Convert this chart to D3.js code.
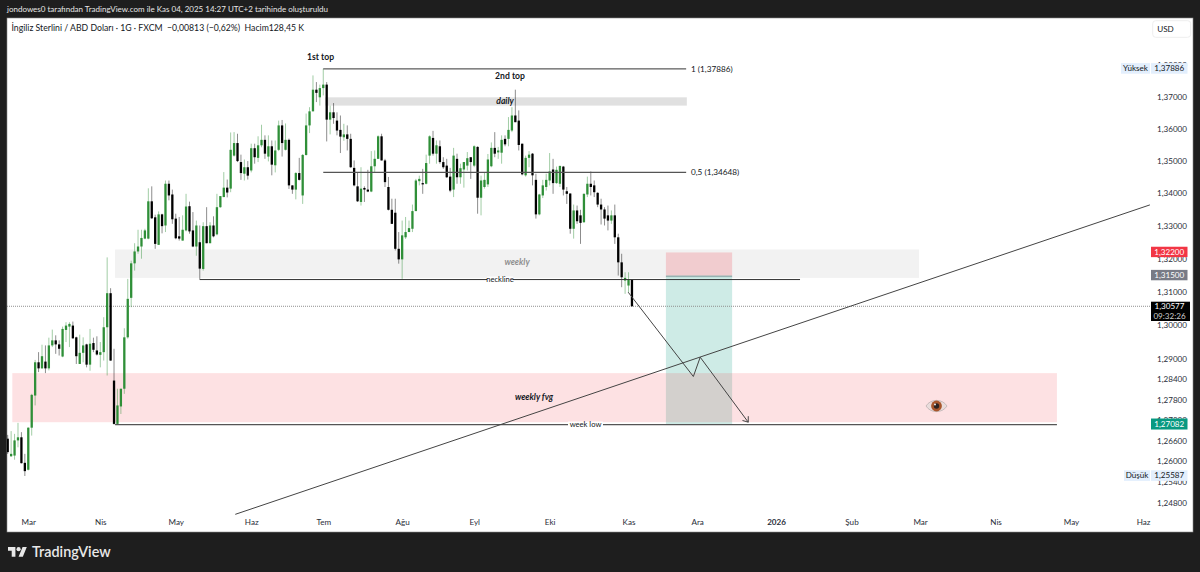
<!DOCTYPE html>
<html><head><meta charset="utf-8">
<script src="https://cdn.jsdelivr.net/npm/d3@7"></script>
<style>
html,body{margin:0;padding:0;background:#1e1e1e;overflow:hidden}
svg{display:block}
text{font-family:Lato,"Open Sans",sans-serif}
</style></head><body>
<svg id="c" width="1200" height="572"></svg>
<script>
const opens=[1.2667,1.2616,1.2618,1.2662,1.2671,1.2597,1.2577,1.2699,1.2793,1.2891,1.2873,1.2893,1.2873,1.2941,1.2956,1.2944,1.2908,1.2987,1.2997,1.3000,
1.2965,1.2886,1.2919,1.2944,1.2884,1.2948,1.2926,1.2913,1.2921,1.2995,1.3097,1.2837,1.2710,1.2761,1.2813,1.2965,1.3083,1.3187,1.3223,1.3238,
1.3262,1.3262,1.3376,1.3327,1.3243,1.3336,1.3302,1.3430,1.3397,1.3323,1.3269,1.3256,1.3287,1.3361,1.3287,1.3238,1.3251,1.3170,1.3300,1.3248,
1.3302,1.3275,1.3358,1.3389,1.3418,1.3415,1.3517,1.3556,1.3497,1.3461,1.3481,1.3471,1.3540,1.3510,1.3549,1.3566,1.3514,1.3546,1.3487,1.3535,
1.3611,1.3535,1.3566,1.3425,1.3412,1.3463,1.3394,1.3519,1.3611,1.3655,1.3723,1.3699,1.3728,1.3739,1.3629,1.3652,1.3626,1.3597,1.3574,1.3583,
1.3569,1.3479,1.3422,1.3374,1.3417,1.3412,1.3406,1.3484,1.3507,1.3577,1.3502,1.3420,1.3350,1.3341,1.3231,1.3199,1.3266,1.3282,1.3292,1.3346,
1.3438,1.3432,1.3430,1.3517,1.3572,1.3523,1.3546,1.3497,1.3486,1.3452,1.3412,1.3507,1.3450,1.3474,1.3486,1.3512,1.3486,1.3544,1.3387,1.3420,
1.3428,1.3484,1.3541,1.3527,1.3526,1.3569,1.3569,1.3595,1.3642,1.3626,1.3554,1.3456,1.3510,1.3523,1.3442,1.3336,1.3394,1.3420,1.3440,1.3474,
1.3432,1.3430,1.3483,1.3407,1.3400,1.3292,1.3348,1.3333,1.3312,1.3397,1.3430,1.3425,1.3402,1.3366,1.3351,1.3333,1.3317,1.3333,1.3266,1.3190,
1.3135,1.3120,1.3137];
const highs=[1.2678,1.2689,1.2681,1.2713,1.2686,1.2623,1.2700,1.2798,1.2898,1.2921,1.2943,1.2941,1.2964,1.2988,1.2971,1.2956,1.2997,1.3010,1.3010,1.3012,
1.2967,1.2973,1.2965,1.2946,1.2990,1.2964,1.2968,1.2951,1.3025,1.3205,1.3112,1.2931,1.2813,1.2813,1.2992,1.3140,1.3195,1.3248,1.3289,1.3289,
1.3292,1.3416,1.3422,1.3335,1.3345,1.3338,1.3440,1.3440,1.3412,1.3338,1.3328,1.3333,1.3399,1.3375,1.3343,1.3317,1.3302,1.3312,1.3358,1.3312,
1.3330,1.3399,1.3392,1.3466,1.3443,1.3589,1.3590,1.3585,1.3520,1.3505,1.3500,1.3554,1.3554,1.3577,1.3613,1.3580,1.3580,1.3564,1.3564,1.3626,
1.3628,1.3617,1.3570,1.3425,1.3466,1.3510,1.3522,1.3648,1.3668,1.3768,1.3747,1.3739,1.3789,1.3747,1.3673,1.3681,1.3652,1.3642,1.3616,1.3611,
1.3585,1.3502,1.3466,1.3481,1.3422,1.3473,1.3531,1.3533,1.3580,1.3585,1.3507,1.3451,1.3384,1.3384,1.3282,1.3317,1.3328,1.3317,1.3366,1.3445,
1.3455,1.3476,1.3520,1.3580,1.3594,1.3564,1.3564,1.3512,1.3507,1.3479,1.3541,1.3523,1.3492,1.3497,1.3528,1.3512,1.3549,1.3546,1.3455,1.3466,
1.3522,1.3558,1.3590,1.3544,1.3580,1.3580,1.3637,1.3668,1.3723,1.3658,1.3554,1.3517,1.3531,1.3525,1.3461,1.3399,1.3442,1.3461,1.3525,1.3507,
1.3483,1.3486,1.3485,1.3420,1.3400,1.3366,1.3363,1.3350,1.3400,1.3452,1.3468,1.3440,1.3404,1.3384,1.3358,1.3363,1.3348,1.3366,1.3277,1.3216,
1.3160,1.3160,1.3137];
const lows=[1.2623,1.2614,1.2606,1.2642,1.2595,1.2559,1.2575,1.2676,1.2764,1.2862,1.2872,1.2859,1.2867,1.2936,1.2916,1.2911,1.2906,1.2951,1.2936,1.2961,
1.2886,1.2886,1.2891,1.2876,1.2866,1.2921,1.2911,1.2876,1.2896,1.2852,1.2896,1.2708,1.2708,1.2739,1.2798,1.2961,1.3055,1.3165,1.3216,1.3201,
1.3260,1.3260,1.3322,1.3231,1.3243,1.3278,1.3282,1.3379,1.3307,1.3260,1.3256,1.3256,1.3284,1.3277,1.3236,1.3210,1.3138,1.3165,1.3248,1.3248,
1.3266,1.3272,1.3356,1.3389,1.3388,1.3404,1.3514,1.3497,1.3442,1.3440,1.3443,1.3465,1.3492,1.3497,1.3543,1.3507,1.3499,1.3456,1.3465,1.3531,
1.3514,1.3533,1.3414,1.3399,1.3382,1.3440,1.3368,1.3517,1.3587,1.3655,1.3684,1.3673,1.3705,1.3561,1.3583,1.3616,1.3580,1.3525,1.3563,1.3533,
1.3479,1.3422,1.3374,1.3363,1.3374,1.3404,1.3404,1.3466,1.3507,1.3502,1.3420,1.3348,1.3307,1.3226,1.3186,1.3140,1.3261,1.3282,1.3282,1.3346,
1.3425,1.3399,1.3428,1.3492,1.3517,1.3492,1.3492,1.3476,1.3448,1.3404,1.3389,1.3430,1.3430,1.3418,1.3471,1.3445,1.3481,1.3338,1.3333,1.3415,
1.3420,1.3481,1.3512,1.3507,1.3492,1.3546,1.3546,1.3590,1.3621,1.3533,1.3456,1.3452,1.3481,1.3425,1.3323,1.3333,1.3386,1.3409,1.3425,1.3399,
1.3430,1.3420,1.3394,1.3368,1.3277,1.3262,1.3307,1.3246,1.3310,1.3389,1.3394,1.3389,1.3358,1.3305,1.3302,1.3287,1.3307,1.3246,1.3150,1.3115,
1.3095,1.3100,1.30577];
const closes=[1.2628,1.2623,1.2662,1.2671,1.2596,1.2573,1.2699,1.2795,1.2891,1.2873,1.2909,1.2873,1.2941,1.2956,1.2944,1.2931,1.2990,1.3000,1.3005,1.2962,
1.2909,1.2919,1.2941,1.2884,1.2946,1.2928,1.2914,1.2921,1.2995,1.3097,1.2896,1.2710,1.2764,1.2813,1.2965,1.3080,1.3187,1.3223,1.3238,1.3264,
1.3287,1.3376,1.3324,1.3246,1.3336,1.3300,1.3430,1.3394,1.3321,1.3263,1.3262,1.3289,1.3360,1.3284,1.3238,1.3302,1.3171,1.3300,1.3248,1.3302,
1.3269,1.3358,1.3392,1.3418,1.3403,1.3535,1.3556,1.3500,1.3463,1.3481,1.3455,1.3540,1.3512,1.3549,1.3566,1.3523,1.3546,1.3489,1.3533,1.3611,
1.3556,1.3566,1.3425,1.3412,1.3463,1.3442,1.3519,1.3611,1.3655,1.3723,1.3713,1.3728,1.3739,1.3629,1.3652,1.3634,1.3595,1.3576,1.3583,1.3569,
1.3481,1.3425,1.3376,1.3415,1.3412,1.3406,1.3484,1.3507,1.3577,1.3502,1.3435,1.3350,1.3307,1.3231,1.3199,1.3272,1.3282,1.3294,1.3346,1.3440,
1.3445,1.3428,1.3494,1.3577,1.3523,1.3549,1.3497,1.3481,1.3450,1.3409,1.3517,1.3450,1.3478,1.3497,1.3509,1.3497,1.3546,1.3387,1.3440,1.3442,
1.3505,1.3541,1.3523,1.3533,1.3566,1.3552,1.3597,1.3642,1.3621,1.3550,1.3459,1.3510,1.3520,1.3456,1.3336,1.3397,1.3425,1.3442,1.3468,1.3432,
1.3473,1.3485,1.3412,1.3399,1.3292,1.3348,1.3315,1.3310,1.3399,1.3430,1.3420,1.3404,1.3366,1.3351,1.3323,1.3317,1.3333,1.3266,1.3190,1.3145,
1.3143,1.3137,1.30577];
const priceTicks=[1.38,1.37,1.36,1.35,1.34,1.33,1.32,1.31,1.30,1.29,1.284,1.278,1.272,1.266,1.26,1.254,1.248];
const timeLabels=["Mar","Nis","May","Haz","Tem","Ağu","Eyl","Eki","Kas","Ara","2026","Şub","Mar","Nis","May","Haz"];
const timeBars=[6,27,49,71,92,115,136,158,181,201,224,246,266,288,310,331];
const highPrice=1.37886, lowPrice=1.25587, lastPrice=1.30577;
const fibOne=1.37886, fibHalf=1.34648, neckPrice=1.3138, weekLow=1.27082;
const entry=1.315, stop=1.322, target=1.27082;
const trendBars=[66.35,333], trendPrices=[1.2449,1.3365];
const pathBars=[180.9,199.9,201.9,215.9], pathPrices=[1.31,1.2849,1.2906,1.2715];

const svg=d3.select("#c");
const L=7,R=1193,T=18,B=532;
const x=d3.scaleLinear().domain([0,182]).range([7.7,631.96]);
const y=d3.scaleLog().domain([1.37,1.248]).range([97,503.5]);
const yT=d3.scaleLog().domain([1.37,1.248]).range([96.5,503]);
const defs=svg.append("defs");
defs.append("clipPath").attr("id","pane").append("rect").attr("x",L).attr("y",T).attr("width",R-L).attr("height",B-T);
svg.append("rect").attr("width",1200).attr("height",572).attr("fill","#1e1e1e");
svg.append("rect").attr("x",L).attr("y",T).attr("width",R-L).attr("height",B-T).attr("fill","#fff").attr("stroke","#8a8a8a").attr("stroke-width",.6);

const g=svg.append("g").attr("clip-path","url(#pane)");
function zone(b0,b1,p0,p1,fill){g.append("rect").attr("x",x(b0)).attr("width",x(b1)-x(b0)).attr("y",y(p0)).attr("height",y(p1)-y(p0)).attr("fill",fill);}
zone(31.3,265.7,1.3229,1.3143,"#f2f2f2");
zone(92.5,198,1.3699,1.3673,"#e0e0e0");
zone(191.9,211.2,stop,entry,"rgba(242,54,69,.2)");
zone(191.9,211.2,entry,target,"rgba(8,153,129,.2)");
zone(191.9,211.2,entry,entry-0.0004,"rgba(90,110,115,.45)");
zone(1.34,305.9,1.2859,1.2715,"rgba(242,54,69,.15)");

g.append("line").attr("x1",L).attr("x2",1150).attr("y1",y(lastPrice)).attr("y2",y(lastPrice)).attr("stroke","#8f8f8f").attr("stroke-width",1).attr("stroke-dasharray","1 1");

const idx=d3.range(opens.length);
const UP="#2f8f38", DOWN="#000";
const cg=g.append("g");
cg.selectAll("line.w").data(idx).join("line").attr("class","w")
 .attr("x1",i=>x(i)).attr("x2",i=>x(i)).attr("y1",i=>y(highs[i])).attr("y2",i=>y(lows[i]))
 .attr("stroke",i=>closes[i]>=opens[i]?UP:DOWN).attr("stroke-opacity",.45).attr("stroke-width",1);
cg.selectAll("rect.b").data(idx).join("rect").attr("class","b")
 .attr("x",i=>x(i)-1.15).attr("width",2.3)
 .attr("y",i=>y(Math.max(opens[i],closes[i])))
 .attr("height",i=>Math.max(1,Math.abs(y(opens[i])-y(closes[i]))))
 .attr("fill",i=>closes[i]>=opens[i]?UP:DOWN);

function hline(b0,b1,p,col,w){g.append("line").attr("x1",x(b0)).attr("x2",x(b1)).attr("y1",y(p)).attr("y2",y(p)).attr("stroke",col).attr("stroke-width",w||1);}
hline(92,197.8,fibOne,"#333");
hline(92,197.8,fibHalf,"#555",1.3);
hline(56,231,neckPrice,"#333");
hline(31.3,305.9,weekLow,"#555",1.2);
g.append("line").attr("x1",x(trendBars[0])).attr("y1",y(trendPrices[0])).attr("x2",x(trendBars[1])).attr("y2",y(trendPrices[1])).attr("stroke","#444").attr("stroke-width",1);
const pts=pathBars.map((b,i)=>[x(b),y(pathPrices[i])]);
g.append("path").attr("d",d3.line()(pts)).attr("fill","none").attr("stroke","#444").attr("stroke-width",1);
const e=pts[3],a=Math.atan2(e[1]-pts[2][1],e[0]-pts[2][0]);
g.append("path").attr("fill","none").attr("stroke","#444").attr("stroke-width",1)
 .attr("d",d3.line()([[e[0]+6*Math.cos(a+2.5),e[1]+6*Math.sin(a+2.5)],e,[e[0]+6*Math.cos(a-2.5),e[1]+6*Math.sin(a-2.5)]]));

function txt(s,px,py,o={}){return svg.append("text").attr("x",px).attr("y",py).attr("dy",".35em").attr("text-anchor",o.a||"middle")
 .attr("font-size",o.s||8.5).attr("font-weight",o.w||"400").attr("font-style",o.i||"normal").attr("fill",o.c||"#131722").text(s);}
function gap(px0,px1,py){svg.append("rect").attr("x",px0).attr("y",py-3).attr("width",px1-px0).attr("height",6).attr("fill","#fff");}
txt("1st top",320.5,57,{w:700,s:8.6});
txt("2nd top",510,76,{w:700,s:8.6});
txt("daily",505,100.7,{w:700,i:"italic",s:8.6});
txt("weekly",517,262,{w:700,i:"italic",c:"#8f8f8f",s:8.6});
gap(487,513,y(neckPrice)); txt("neckline",500,279,{s:7.6});
gap(568,603,y(weekLow)); txt("week low",585.5,424.6,{s:7.6});
txt("weekly fvg",534,397,{w:700,i:"italic",s:8.6});
txt("1 (1,37886)",691,69,{a:"start",s:8.2});
txt("0,5 (1,34648)",691,172.5,{a:"start",s:8.2});

const eye=svg.append("g").attr("transform","translate(936.5,406)");
eye.append("path").attr("d","M-10.5 0C-6 -7.5 6 -7.5 10.5 0C6 7.5 -6 7.5 -10.5 0Z").attr("fill","#e9dcdc").attr("stroke","#b5aaaa").attr("stroke-width",.7);
eye.append("circle").attr("r",5.4).attr("fill","#a8562c");
eye.append("circle").attr("r",2.7).attr("fill","#2c2220");
eye.append("circle").attr("r",.9).attr("cx",-1.5).attr("cy",-1.5).attr("fill","#fff");

txt("jondowes0 tarafından TradingView.com ile Kas 04, 2025 14:27 UTC+2 tarihinde oluşturuldu",7,9.5,{a:"start",c:"#e6e6e6",s:8});
txt("İngiliz Sterlini / ABD Doları · 1G · FXCM  −0,00813 (−0,62%)  Hacim128,45 K",11.5,28,{a:"start",s:8.7}).attr("xml:space","preserve");

const fmt=d=>d3.format(".5f")(d).replace(".",",");
const ya=svg.append("g").attr("transform","translate(1150,0)").call(d3.axisRight(yT).tickValues(priceTicks).tickFormat(fmt).tickSize(0).tickPadding(7));
ya.select(".domain").remove();
ya.selectAll("text").attr("font-family","Lato").attr("font-size",8.1).attr("fill","#2a2e39");
const xa=svg.append("g").attr("transform","translate(0,517.5)").call(d3.axisBottom(x).tickValues(timeBars).tickFormat((d,i)=>timeLabels[i]).tickSize(0).tickPadding(2));
xa.select(".domain").remove();
xa.selectAll("text").attr("font-family","Lato").attr("font-size",8.1).attr("fill","#2a2e39").attr("font-weight",(d,i)=>timeLabels[i]==="2026"?700:400);

function tag(px,w,cy,h,fill,s,c){svg.append("rect").attr("x",px).attr("y",cy-h/2).attr("width",w).attr("height",h).attr("fill",fill);
 txt(s,px+w/2,cy,{c:c,s:8.1});}
tag(1121,29,yT(highPrice),10.6,"#e3effd","Yüksek","#131722");
tag(1151,36.5,yT(highPrice),10.6,"#e3effd",fmt(highPrice),"#131722");
tag(1151,36.5,yT(stop),10.4,"#f23645",fmt(stop),"#fff");
tag(1151,36.5,yT(entry),10.4,"#787b86",fmt(entry),"#fff");
tag(1151,36.5,yT(target),11,"#089981",fmt(target),"#fff");
tag(1124,26,yT(lowPrice),10.6,"#e3effd","Düşük","#131722");
tag(1151,36.5,yT(lowPrice),10.6,"#e3effd",fmt(lowPrice),"#131722");
svg.append("rect").attr("x",1151).attr("y",301.7).attr("width",39).attr("height",19.3).attr("fill","#000");
txt(fmt(lastPrice),1169.5,306.5,{c:"#fff",s:8.1});
txt("09:32:26",1169.5,316,{c:"#cfcfcf",s:8.1});
svg.append("rect").attr("x",1152.7).attr("y",20.7).attr("width",38).attr("height",16.6).attr("fill","#fff").attr("stroke","#eee").attr("rx",3);
txt("USD",1165.5,29,{s:8.1});

const lg=svg.append("g").attr("transform","translate(8,545) scale(.53)").attr("fill","#e8e8e8");
lg.append("path").attr("d","M14 22H7V11H0V4h14v18zM28 22h-8l7.5-18h8L28 22z");
lg.append("circle").attr("cx",20).attr("cy",8).attr("r",4);
txt("TradingView",32,552,{a:"start",c:"#e8e8e8",s:14.4,w:600}).attr("font-family","Inter");
</script>
</body></html>
